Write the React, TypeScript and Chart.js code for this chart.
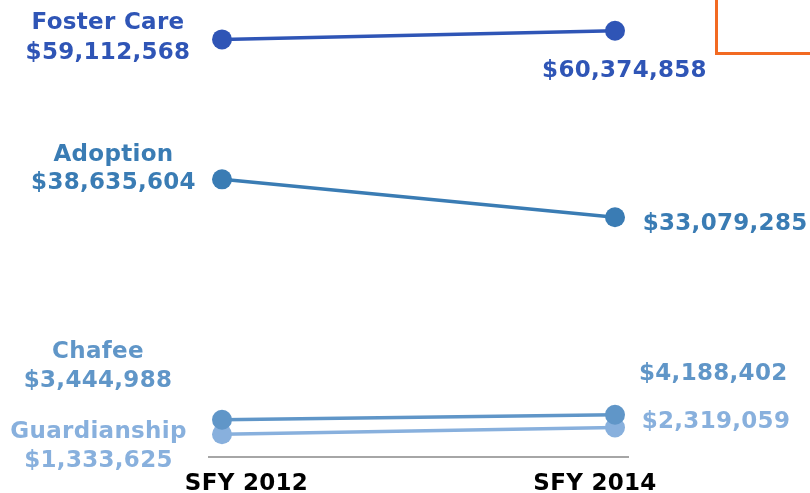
import React, { useEffect, useRef } from "react";
import { Chart, registerables } from "chart.js";

Chart.register(...registerables);

const categories = ["SFY 2012", "SFY 2014"];
const seriesNames = ["Foster Care", "Adoption", "Chafee", "Guardianship"];
const fosterCare = [59112568, 60374858];
const adoption = [38635604, 33079285];
const chafee = [3444988, 4188402];
const guardianship = [1333625, 2319059];

const seriesValues = [fosterCare, adoption, chafee, guardianship];
const seriesColors = ["#2f55b6", "#3a7cb4", "#6096c8", "#88b0dd"];

const FONT = "bold 23px 'DejaVu Sans'";

// label placement relative to the drawn point (layout only)
const leftLabelLayout = [
  { dx: -114, nameDy: -10, valueDy: 20, maxWidth: 0 },
  { dx: -108.5, nameDy: -18, valueDy: 10, maxWidth: 0 },
  { dx: -124, nameDy: -62, valueDy: -33, maxWidth: 0 },
  { dx: -123.5, nameDy: 4, valueDy: 33, maxWidth: 177 },
];
const rightLabelLayout = [
  { dx: 9.5, dy: 46, align: "center" },
  { dx: 27.7, dy: 13, align: "left" },
  { dx: 24, dy: -35, align: "left" },
  { dx: 26.7, dy: 1, align: "left" },
];
const tickLabelDx = [24.5, -20];

const fmt = (v: number) => "$" + v.toLocaleString("en-US");

const labelPlugin = {
  id: "slopeLabels",
  afterDraw(chart: any) {
    const ctx = chart.ctx as CanvasRenderingContext2D;
    ctx.save();
    ctx.font = FONT;
    (ctx as any).letterSpacing = "0.3px";
    ctx.textBaseline = "alphabetic";
    seriesNames.forEach((name, i) => {
      const meta = chart.getDatasetMeta(i);
      const p0 = meta.data[0];
      const p1 = meta.data[1];
      const L = leftLabelLayout[i];
      const R = rightLabelLayout[i];
      ctx.fillStyle = seriesColors[i];
      ctx.textAlign = "center";
      if (L.maxWidth) {
        ctx.fillText(name, p0.x + L.dx, p0.y + L.nameDy, L.maxWidth);
      } else {
        ctx.fillText(name, p0.x + L.dx, p0.y + L.nameDy);
      }
      ctx.fillText(fmt(seriesValues[i][0]), p0.x + L.dx, p0.y + L.valueDy);
      ctx.textAlign = R.align as CanvasTextAlign;
      ctx.fillText(fmt(seriesValues[i][1]), p1.x + R.dx, p1.y + R.dy);
    });
    const xScale = chart.scales.x;
    ctx.fillStyle = "#000000";
    ctx.textAlign = "center";
    categories.forEach((c, i) => {
      ctx.fillText(c, xScale.getPixelForValue(i) + tickLabelDx[i], chart.chartArea.bottom + 33);
    });
    ctx.restore();
  },
};

export default function App() {
  const ref = useRef<HTMLCanvasElement>(null);
  useEffect(() => {
    if (!ref.current) return;
    const chart = new Chart(ref.current, {
      type: "line",
      data: {
        datasets: seriesNames.map((name, i) => ({
          label: name,
          data: seriesValues[i].map((v, j) => ({ x: j, y: v })),
          borderColor: seriesColors[i],
          backgroundColor: seriesColors[i],
          pointBackgroundColor: seriesColors[i],
          pointBorderWidth: 0,
          pointRadius: 10,
          borderWidth: 3.5,
          fill: false,
          tension: 0,
          clip: false as any,
        })),
      },
      options: {
        animation: false,
        responsive: false,
        layout: { padding: { left: 209, right: 182, top: 6, bottom: 36 }, autoPadding: false } as any,
        plugins: { legend: { display: false }, tooltip: { enabled: false } },
        scales: {
          x: {
            type: "linear",
            min: -13 / 393,
            max: 1 + 13 / 393,
            grid: { display: false, drawTicks: false, tickLength: 0 },
            border: { display: true, color: "#a6a6a6", width: 2 },
            ticks: { display: false },
          },
          y: {
            display: false,
            min: -2000000,
            max: 64000000,
          },
        },
      },
      plugins: [labelPlugin],
    });
    return () => chart.destroy();
  }, []);
  return (
    <div style={{ position: "fixed", left: 0, top: 0, width: 810, height: 493, overflow: "hidden", background: "#fff" }}>
      <canvas ref={ref} width={810} height={493} style={{ position: "absolute", left: 0, top: 0 }} />
      <div
        style={{
          position: "absolute",
          left: 715,
          top: -10,
          width: 200,
          height: 65,
          boxSizing: "border-box",
          border: "3px solid #f26a22",
        }}
      />
    </div>
  );
}
